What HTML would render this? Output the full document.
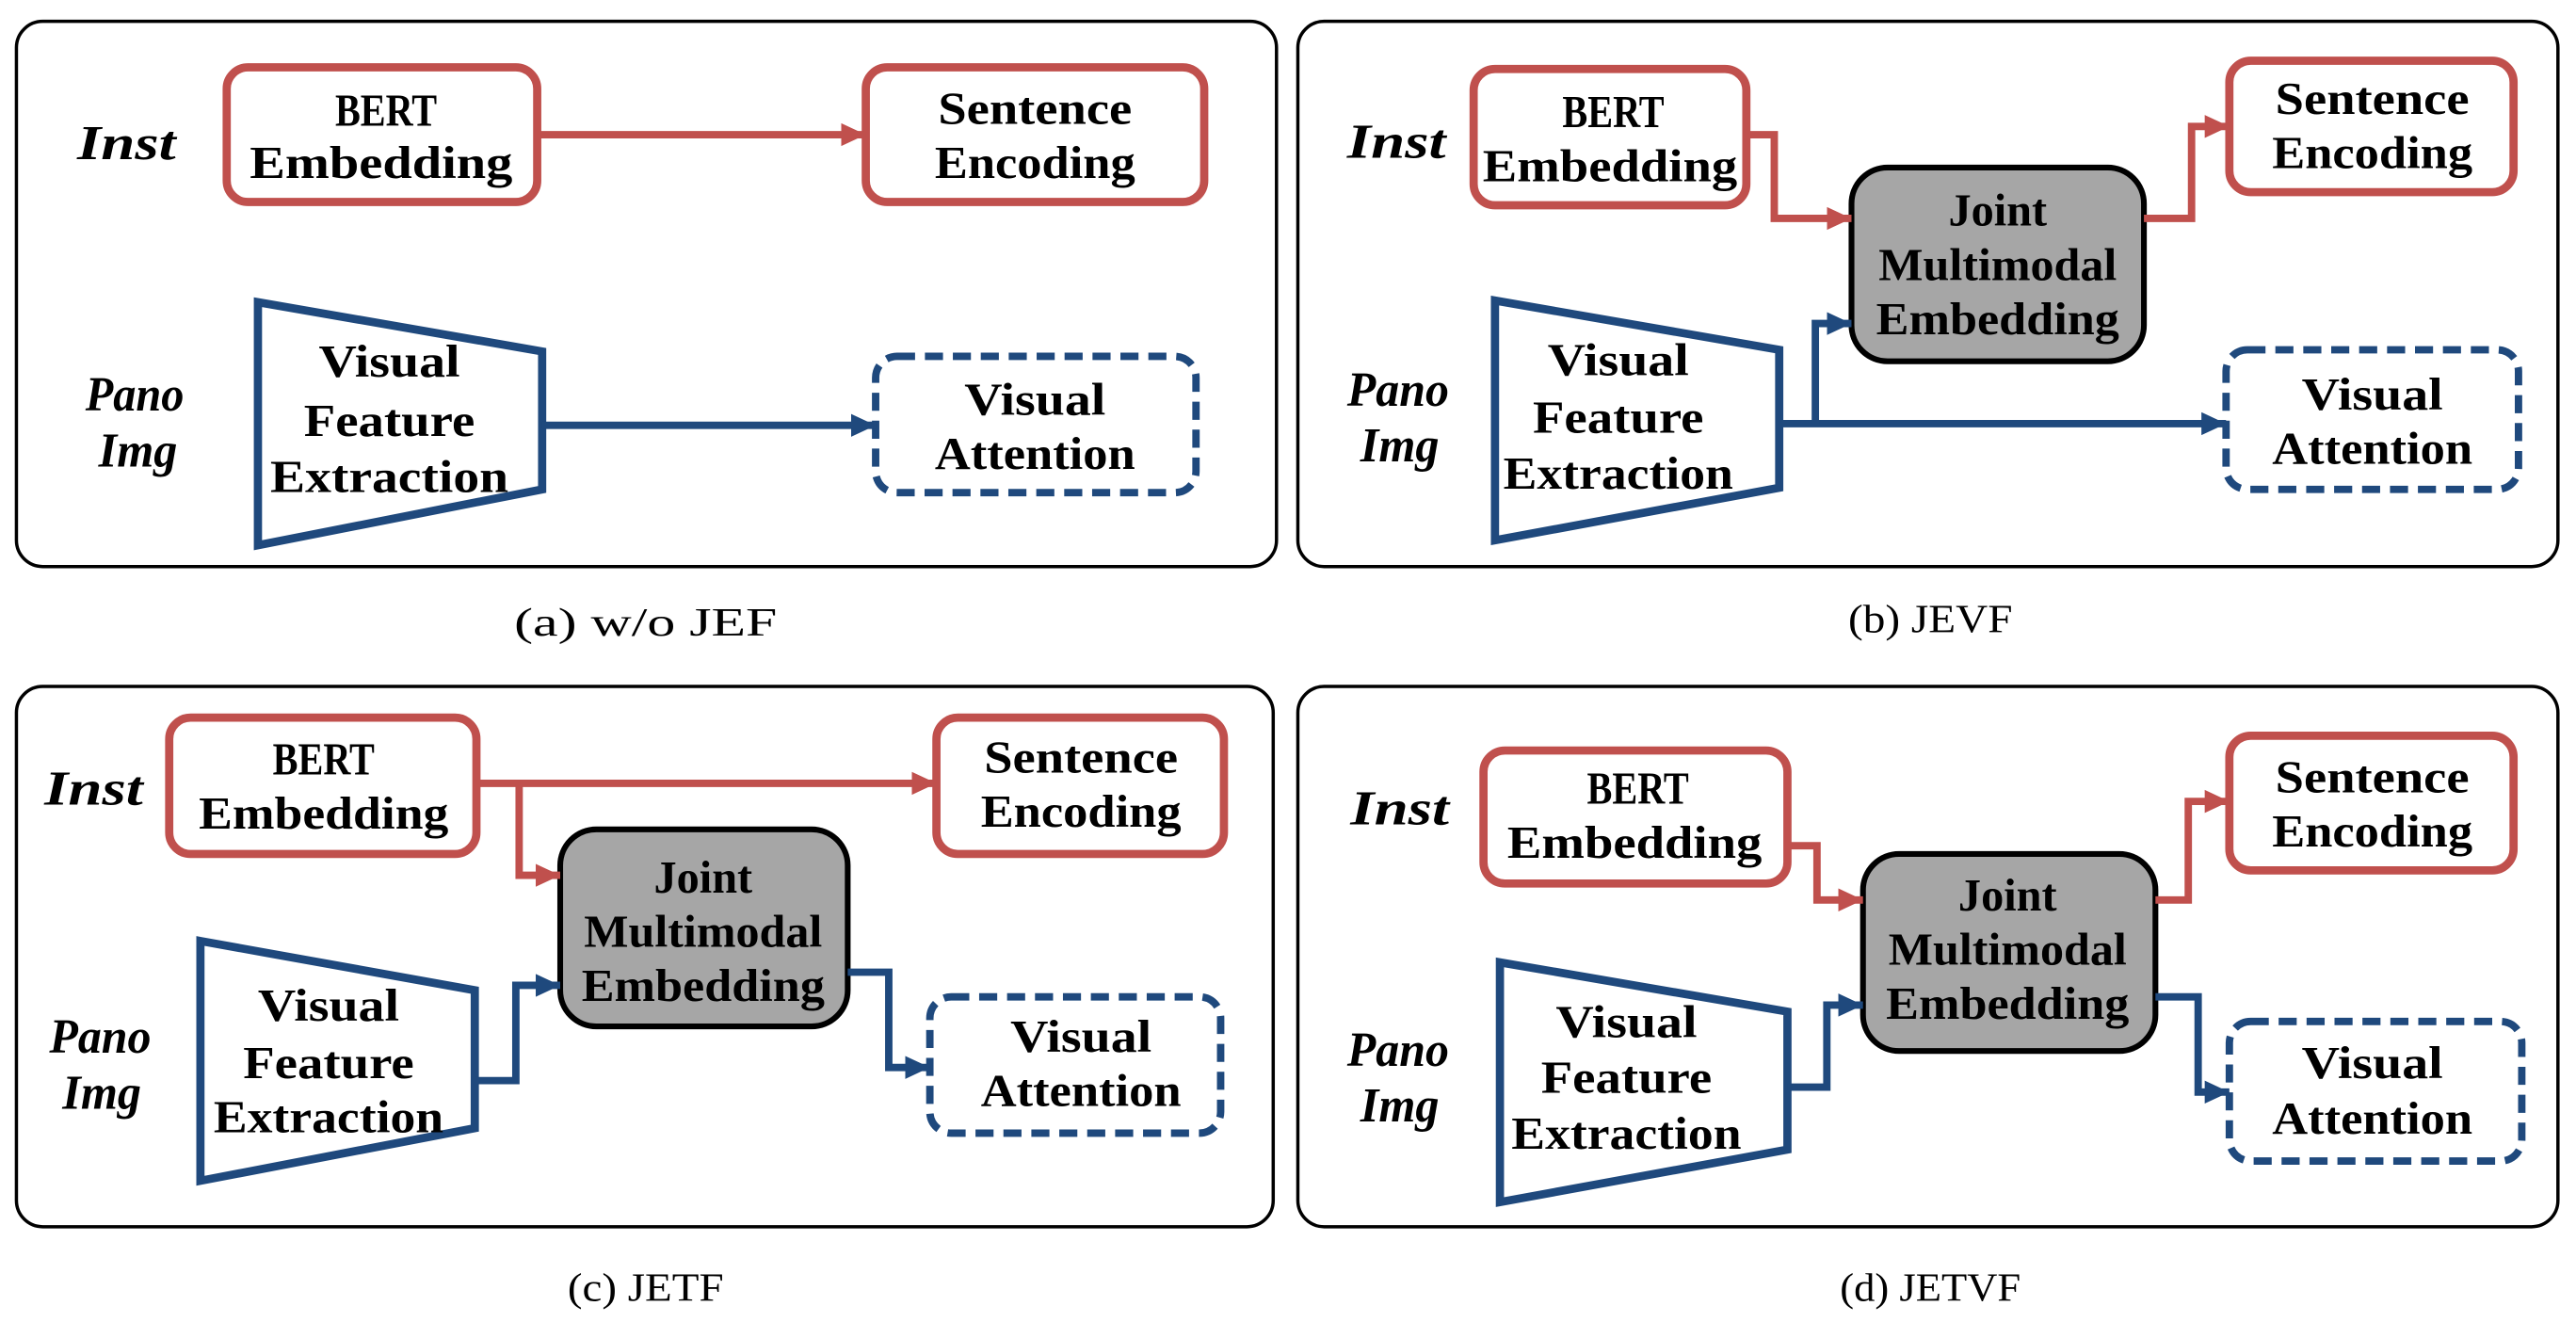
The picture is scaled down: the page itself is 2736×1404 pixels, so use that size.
<!DOCTYPE html>
<html><head><meta charset="utf-8">
<style>
html,body{margin:0;padding:0;background:#fff;}
svg{display:block;}
text{font-family:"Liberation Serif",serif;font-weight:bold;fill:#000;}
.it{font-style:italic;}
.cap{font-weight:normal;}
</style></head>
<body>
<svg width="2736" height="1404" viewBox="0 0 1568 805" preserveAspectRatio="none" xmlns="http://www.w3.org/2000/svg">
<defs>
<marker id="ar" markerUnits="userSpaceOnUse" markerWidth="16" markerHeight="16" refX="15" refY="8" orient="auto"><path d="M0,1 L15,8 L0,15 Z" fill="#c0504d"/></marker>
<marker id="ab" markerUnits="userSpaceOnUse" markerWidth="16" markerHeight="16" refX="15" refY="8" orient="auto"><path d="M0,1 L15,8 L0,15 Z" fill="#1f497d"/></marker>
</defs>
<g fill="none" stroke="#000" stroke-width="2">
<rect x="10" y="13" width="767" height="332" rx="16"/>
<rect x="790" y="13" width="767" height="332" rx="16"/>
<rect x="10" y="418" width="765" height="329" rx="16"/>
<rect x="790" y="418" width="767" height="329" rx="16"/>
</g>
<g font-size="24" text-anchor="middle">
<text class="cap" x="393" y="387" textLength="160" lengthAdjust="spacingAndGlyphs">(a) w/o JEF</text>
<text class="cap" x="1175" y="385" textLength="100" lengthAdjust="spacingAndGlyphs">(b) JEVF</text>
<text class="cap" x="393" y="792" textLength="95" lengthAdjust="spacingAndGlyphs">(c) JETF</text>
<text class="cap" x="1175" y="792" textLength="110" lengthAdjust="spacingAndGlyphs">(d) JETVF</text>
</g>

<g fill="#fff" stroke="#c0504d" stroke-width="5">
<rect x="138" y="41" width="189" height="82" rx="13"/>
<rect x="527" y="41" width="206" height="82" rx="13"/>
<rect x="897" y="42" width="166" height="83" rx="13"/>
<rect x="1357" y="37" width="173" height="80" rx="13"/>
<rect x="103" y="437" width="187" height="83" rx="13"/>
<rect x="570" y="437" width="175" height="83" rx="13"/>
<rect x="903" y="457" width="185" height="81" rx="13"/>
<rect x="1357" y="448" width="173" height="82" rx="13"/>
</g>
<g fill="#fff" stroke="#1f497d" stroke-width="4.5" stroke-dasharray="11 6">
<rect x="533" y="217" width="195" height="83" rx="13"/>
<rect x="1355" y="213" width="178" height="85" rx="13"/>
<rect x="566" y="607" width="177" height="83" rx="13"/>
<rect x="1357" y="622" width="178" height="85" rx="13"/>
</g>
<g fill="#fff" stroke="#1f497d" stroke-width="5" stroke-linejoin="miter">
<polygon points="157,184 330,214 330,298 157,332"/>
<polygon points="910,183 1083,213 1083,297 910,329"/>
<polygon points="122,573 289,603 289,687 122,719"/>
<polygon points="913,586 1088,616 1088,700 913,732"/>
</g>
<g fill="#a6a6a6" stroke="#000" stroke-width="3.5">
<rect x="1127" y="102" width="178" height="118" rx="22"/>
<rect x="341" y="505" width="175" height="120" rx="22"/>
<rect x="1134" y="520" width="178" height="120" rx="22"/>
</g>

<g fill="none" stroke-width="4.5" stroke-linejoin="miter">
<path d="M327,82 H527" stroke="#c0504d" marker-end="url(#ar)"/>
<path d="M330,259 H533" stroke="#1f497d" marker-end="url(#ab)"/>

<path d="M1063,82 H1080 V133 H1127" stroke="#c0504d" marker-end="url(#ar)"/>
<path d="M1305,133 H1334 V77 H1357" stroke="#c0504d" marker-end="url(#ar)"/>
<path d="M1083,258 H1355" stroke="#1f497d" marker-end="url(#ab)"/>
<path d="M1105,258 V197 H1127" stroke="#1f497d" marker-end="url(#ab)"/>

<path d="M290,477 H570" stroke="#c0504d" marker-end="url(#ar)"/>
<path d="M316,477 V533 H341" stroke="#c0504d" marker-end="url(#ar)"/>
<path d="M289,658 H314 V600 H341" stroke="#1f497d" marker-end="url(#ab)"/>
<path d="M516,592 H541 V650 H566" stroke="#1f497d" marker-end="url(#ab)"/>

<path d="M1088,515 H1106 V548 H1134" stroke="#c0504d" marker-end="url(#ar)"/>
<path d="M1312,548 H1332 V488 H1357" stroke="#c0504d" marker-end="url(#ar)"/>
<path d="M1088,662 H1112 V612 H1134" stroke="#1f497d" marker-end="url(#ab)"/>
<path d="M1312,607 H1338 V665 H1357" stroke="#1f497d" marker-end="url(#ab)"/>
</g>

<g font-size="30">
<text class="it" x="47" y="97" textLength="60" lengthAdjust="spacingAndGlyphs">Inst</text>
<text class="it" x="52" y="250" textLength="60" lengthAdjust="spacingAndGlyphs">Pano</text>
<text class="it" x="60" y="284" textLength="48" lengthAdjust="spacingAndGlyphs">Img</text>
<text class="it" x="820" y="96" textLength="60" lengthAdjust="spacingAndGlyphs">Inst</text>
<text class="it" x="820" y="247" textLength="62" lengthAdjust="spacingAndGlyphs">Pano</text>
<text class="it" x="828" y="281" textLength="48" lengthAdjust="spacingAndGlyphs">Img</text>
<text class="it" x="27" y="490" textLength="60" lengthAdjust="spacingAndGlyphs">Inst</text>
<text class="it" x="30" y="641" textLength="62" lengthAdjust="spacingAndGlyphs">Pano</text>
<text class="it" x="38" y="675" textLength="48" lengthAdjust="spacingAndGlyphs">Img</text>
<text class="it" x="822" y="502" textLength="60" lengthAdjust="spacingAndGlyphs">Inst</text>
<text class="it" x="820" y="649" textLength="62" lengthAdjust="spacingAndGlyphs">Pano</text>
<text class="it" x="828" y="683" textLength="48" lengthAdjust="spacingAndGlyphs">Img</text>
</g>

<g font-size="28" text-anchor="middle" dominant-baseline="central">
<text x="235" y="67" textLength="62" lengthAdjust="spacingAndGlyphs">BERT</text>
<text x="232" y="99" textLength="160" lengthAdjust="spacingAndGlyphs">Embedding</text>
<text x="630" y="66" textLength="118" lengthAdjust="spacingAndGlyphs">Sentence</text>
<text x="630" y="99" textLength="122" lengthAdjust="spacingAndGlyphs">Encoding</text>
<text x="237" y="220" textLength="86" lengthAdjust="spacingAndGlyphs">Visual</text>
<text x="237" y="256" textLength="104" lengthAdjust="spacingAndGlyphs">Feature</text>
<text x="237" y="290" textLength="145" lengthAdjust="spacingAndGlyphs">Extraction</text>
<text x="630" y="243" textLength="86" lengthAdjust="spacingAndGlyphs">Visual</text>
<text x="630" y="276" textLength="122" lengthAdjust="spacingAndGlyphs">Attention</text>

<text x="982" y="68" textLength="62" lengthAdjust="spacingAndGlyphs">BERT</text>
<text x="980" y="101" textLength="155" lengthAdjust="spacingAndGlyphs">Embedding</text>
<text x="1444" y="60" textLength="118" lengthAdjust="spacingAndGlyphs">Sentence</text>
<text x="1444" y="93" textLength="122" lengthAdjust="spacingAndGlyphs">Encoding</text>
<text x="1216" y="128" textLength="60" lengthAdjust="spacingAndGlyphs">Joint</text>
<text x="1216" y="161" textLength="145" lengthAdjust="spacingAndGlyphs">Multimodal</text>
<text x="1216" y="194" textLength="148" lengthAdjust="spacingAndGlyphs">Embedding</text>
<text x="985" y="219" textLength="86" lengthAdjust="spacingAndGlyphs">Visual</text>
<text x="985" y="254" textLength="104" lengthAdjust="spacingAndGlyphs">Feature</text>
<text x="985" y="288" textLength="140" lengthAdjust="spacingAndGlyphs">Extraction</text>
<text x="1444" y="240" textLength="86" lengthAdjust="spacingAndGlyphs">Visual</text>
<text x="1444" y="273" textLength="122" lengthAdjust="spacingAndGlyphs">Attention</text>

<text x="197" y="462" textLength="62" lengthAdjust="spacingAndGlyphs">BERT</text>
<text x="197" y="495" textLength="152" lengthAdjust="spacingAndGlyphs">Embedding</text>
<text x="658" y="461" textLength="118" lengthAdjust="spacingAndGlyphs">Sentence</text>
<text x="658" y="494" textLength="122" lengthAdjust="spacingAndGlyphs">Encoding</text>
<text x="428" y="534" textLength="60" lengthAdjust="spacingAndGlyphs">Joint</text>
<text x="428" y="567" textLength="145" lengthAdjust="spacingAndGlyphs">Multimodal</text>
<text x="428" y="600" textLength="148" lengthAdjust="spacingAndGlyphs">Embedding</text>
<text x="200" y="612" textLength="86" lengthAdjust="spacingAndGlyphs">Visual</text>
<text x="200" y="647" textLength="104" lengthAdjust="spacingAndGlyphs">Feature</text>
<text x="200" y="680" textLength="140" lengthAdjust="spacingAndGlyphs">Extraction</text>
<text x="658" y="631" textLength="86" lengthAdjust="spacingAndGlyphs">Visual</text>
<text x="658" y="664" textLength="122" lengthAdjust="spacingAndGlyphs">Attention</text>

<text x="997" y="480" textLength="62" lengthAdjust="spacingAndGlyphs">BERT</text>
<text x="995" y="513" textLength="155" lengthAdjust="spacingAndGlyphs">Embedding</text>
<text x="1444" y="473" textLength="118" lengthAdjust="spacingAndGlyphs">Sentence</text>
<text x="1444" y="506" textLength="122" lengthAdjust="spacingAndGlyphs">Encoding</text>
<text x="1222" y="545" textLength="60" lengthAdjust="spacingAndGlyphs">Joint</text>
<text x="1222" y="578" textLength="145" lengthAdjust="spacingAndGlyphs">Multimodal</text>
<text x="1222" y="611" textLength="148" lengthAdjust="spacingAndGlyphs">Embedding</text>
<text x="990" y="622" textLength="86" lengthAdjust="spacingAndGlyphs">Visual</text>
<text x="990" y="656" textLength="104" lengthAdjust="spacingAndGlyphs">Feature</text>
<text x="990" y="690" textLength="140" lengthAdjust="spacingAndGlyphs">Extraction</text>
<text x="1444" y="647" textLength="86" lengthAdjust="spacingAndGlyphs">Visual</text>
<text x="1444" y="681" textLength="122" lengthAdjust="spacingAndGlyphs">Attention</text>
</g>
</svg>
</body></html>
